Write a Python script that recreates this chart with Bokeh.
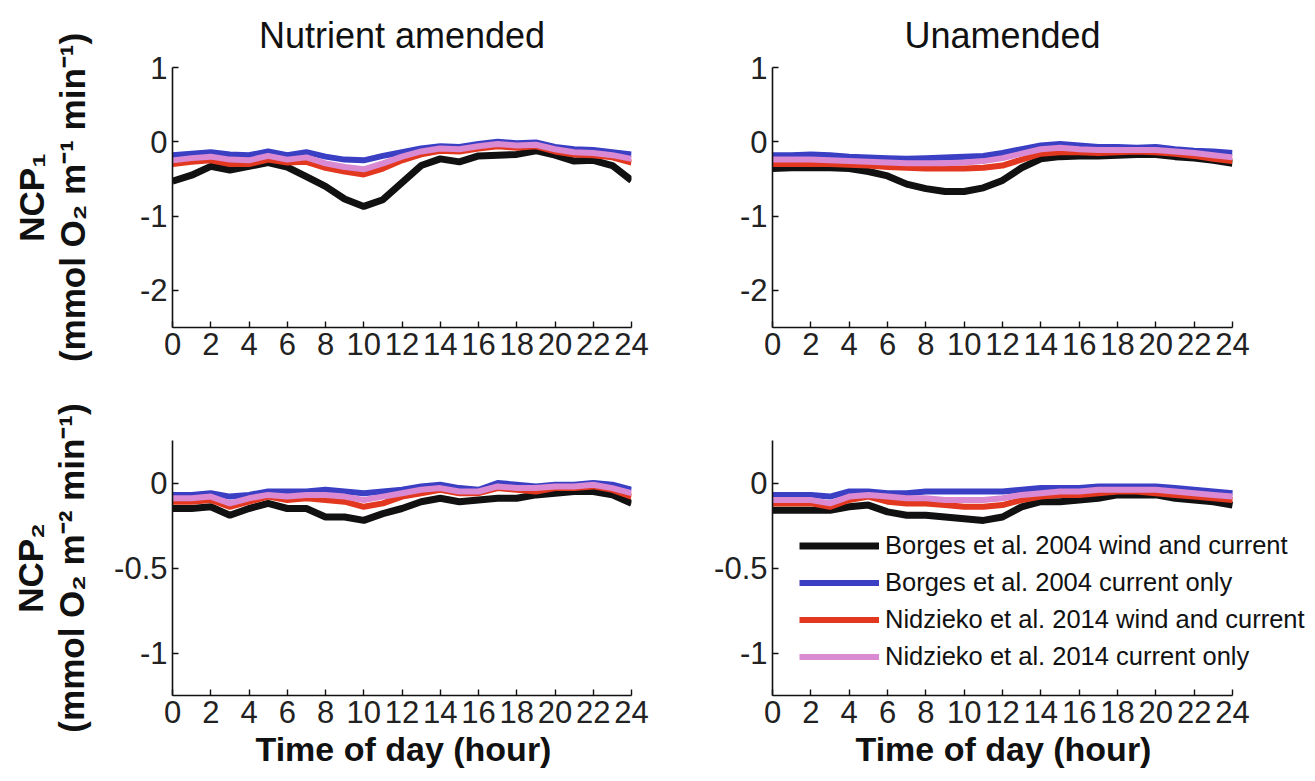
from bokeh.plotting import figure
from bokeh.layouts import column, row
from bokeh.models import FixedTicker, Legend, LegendItem, Range1d, Title
from bokeh.embed import file_html
from bokeh.resources import INLINE

FONT = "Liberation Sans"

hours = list(range(25))
x_ticks = list(range(0, 25, 2))

titles = ["Nutrient amended", "Unamended"]
series_names = ["Borges et al. 2004 wind and current",
                "Borges et al. 2004 current only",
                "Nidzieko et al. 2014 wind and current",
                "Nidzieko et al. 2014 current only"]
series_colors = ["#111111", "#3a3fc4", "#e2381f", "#d98ad2"]
series_widths = [7, 6, 6, 6]

top_yticks = [1, 0, -1, -2]
top_ylabels = ["1", "0", "-1", "-2"]
bot_yticks = [0, -0.5, -1]
bot_ylabels = ["0", "-0.5", "-1"]

ylabel_top = "NCP\u2081\n(mmol O\u2082 m\u207b\u00b9 min\u207b\u00b9)"
ylabel_bot = "NCP\u2082\n(mmol O\u2082 m\u207b\u00b2 min\u207b\u00b9)"
xlabel = "Time of day (hour)"

# Nutrient amended, NCP1
na1_black = [-0.53, -0.45, -0.33, -0.38, -0.33, -0.28, -0.34, -0.47, -0.60, -0.77, -0.87, -0.78, -0.55,
             -0.32, -0.23, -0.27, -0.19, -0.18, -0.17, -0.12, -0.18, -0.26, -0.25, -0.32, -0.52]
na1_blue = [-0.18, -0.16, -0.14, -0.17, -0.18, -0.13, -0.18, -0.14, -0.20, -0.24, -0.25, -0.19, -0.14,
            -0.09, -0.06, -0.07, -0.03, 0.00, -0.02, -0.01, -0.07, -0.10, -0.11, -0.14, -0.17]
na1_red = [-0.30, -0.27, -0.25, -0.30, -0.30, -0.24, -0.28, -0.27, -0.35, -0.40, -0.44, -0.36, -0.25,
           -0.17, -0.12, -0.13, -0.09, -0.06, -0.08, -0.06, -0.13, -0.17, -0.18, -0.21, -0.28]
na1_pink = [-0.25, -0.22, -0.20, -0.24, -0.25, -0.19, -0.24, -0.21, -0.29, -0.34, -0.37, -0.29, -0.20,
            -0.13, -0.09, -0.10, -0.06, -0.03, -0.05, -0.04, -0.10, -0.14, -0.15, -0.18, -0.23]

# Unamended, NCP1
un1_black = [-0.36, -0.35, -0.35, -0.35, -0.36, -0.40, -0.46, -0.57, -0.63, -0.67, -0.67, -0.62, -0.52,
             -0.35, -0.23, -0.20, -0.19, -0.19, -0.18, -0.17, -0.17, -0.20, -0.22, -0.25, -0.29]
un1_blue = [-0.18, -0.18, -0.17, -0.18, -0.20, -0.21, -0.22, -0.23, -0.22, -0.21, -0.20, -0.19, -0.15,
            -0.10, -0.05, -0.03, -0.05, -0.07, -0.07, -0.08, -0.07, -0.10, -0.12, -0.13, -0.15]
un1_red = [-0.30, -0.30, -0.30, -0.30, -0.31, -0.32, -0.34, -0.35, -0.36, -0.36, -0.36, -0.35, -0.32,
           -0.24, -0.16, -0.14, -0.14, -0.15, -0.14, -0.13, -0.14, -0.16, -0.19, -0.23, -0.26]
un1_pink = [-0.24, -0.24, -0.24, -0.25, -0.26, -0.27, -0.28, -0.29, -0.29, -0.29, -0.28, -0.26, -0.22,
            -0.16, -0.10, -0.08, -0.10, -0.11, -0.11, -0.11, -0.11, -0.13, -0.15, -0.18, -0.21]

# Nutrient amended, NCP2
na2_black = [-0.15, -0.15, -0.14, -0.19, -0.15, -0.12, -0.15, -0.15, -0.20, -0.20, -0.22, -0.18, -0.15,
             -0.11, -0.09, -0.11, -0.10, -0.09, -0.09, -0.07, -0.06, -0.05, -0.05, -0.07, -0.12]
na2_blue = [-0.07, -0.07, -0.06, -0.08, -0.07, -0.05, -0.05, -0.05, -0.04, -0.05, -0.06, -0.05, -0.04,
            -0.02, -0.01, -0.03, -0.04, 0.00, -0.01, -0.02, -0.01, -0.01, 0.00, -0.01, -0.04]
na2_red = [-0.11, -0.11, -0.10, -0.14, -0.11, -0.08, -0.10, -0.09, -0.10, -0.11, -0.14, -0.12, -0.08,
           -0.06, -0.04, -0.06, -0.06, -0.03, -0.04, -0.05, -0.03, -0.03, -0.02, -0.04, -0.08]
na2_pink = [-0.09, -0.09, -0.08, -0.12, -0.09, -0.07, -0.08, -0.07, -0.07, -0.08, -0.10, -0.08, -0.06,
            -0.04, -0.03, -0.05, -0.05, -0.02, -0.03, -0.03, -0.02, -0.02, -0.01, -0.03, -0.06]

# Unamended, NCP2
un2_black = [-0.16, -0.16, -0.16, -0.16, -0.14, -0.13, -0.17, -0.19, -0.19, -0.20, -0.21, -0.22, -0.20,
             -0.14, -0.11, -0.11, -0.10, -0.09, -0.07, -0.07, -0.07, -0.09, -0.10, -0.11, -0.13]
un2_blue = [-0.07, -0.07, -0.07, -0.08, -0.05, -0.05, -0.06, -0.06, -0.05, -0.05, -0.05, -0.05, -0.05,
            -0.04, -0.03, -0.03, -0.03, -0.02, -0.02, -0.02, -0.02, -0.03, -0.04, -0.05, -0.06]
un2_red = [-0.12, -0.12, -0.12, -0.14, -0.10, -0.08, -0.11, -0.12, -0.12, -0.13, -0.14, -0.14, -0.13,
           -0.10, -0.08, -0.07, -0.07, -0.06, -0.05, -0.05, -0.06, -0.07, -0.08, -0.09, -0.10]
un2_pink = [-0.10, -0.10, -0.10, -0.12, -0.08, -0.07, -0.08, -0.09, -0.09, -0.10, -0.10, -0.10, -0.09,
            -0.07, -0.06, -0.05, -0.05, -0.04, -0.04, -0.04, -0.04, -0.05, -0.06, -0.07, -0.08]


def make_panel(series, ylim, yticks, ylabels, title=None, ylabel=None, xlab=None,
               fw=459, fh=260, bl=172, br=69, bt=67, bb=53, ylabel_standoff=45,
               legend=False, extra_w=0):
    axis_w = fw
    x_end = 24 * (fw + extra_w) / axis_w
    p = figure(frame_width=fw + extra_w, frame_height=fh, x_range=Range1d(0, x_end),
               y_range=Range1d(*ylim),
               output_backend="svg", toolbar_location=None,
               min_border_left=bl, min_border_right=br, min_border_top=bt, min_border_bottom=bb)
    p.outline_line_color = None
    p.grid.visible = False
    if title:
        p.title.text = title
        p.title.align = "center"
        p.title.text_font = FONT
        p.title.text_font_size = "36px"
        p.title.text_font_style = "normal"
        p.title.text_color = "#111111"
        p.title.text_line_height = 1.0
        p.title.standoff = 24
    rends = []
    for vals, c, w in zip(series, series_colors, series_widths):
        rends.append(p.line(hours, vals, line_color=c, line_width=w))
    for ax in (p.xaxis[0], p.yaxis[0]):
        ax.axis_line_color = "#111111"
        ax.axis_line_width = 1.6
        ax.major_tick_line_color = "#111111"
        ax.major_tick_line_width = 1.4
        ax.major_tick_in = 6
        ax.major_tick_out = 0
        ax.minor_tick_line_color = None
        ax.major_label_text_font = FONT
        ax.major_label_text_font_size = "31px"
        ax.major_label_text_color = "#222222"
        ax.major_label_standoff = 5
    p.xaxis.ticker = FixedTicker(ticks=x_ticks)
    p.xaxis.bounds = (0, 24)
    p.yaxis.ticker = FixedTicker(ticks=yticks)
    p.yaxis.major_label_overrides = {t: lab for t, lab in zip(yticks, ylabels)}
    if ylabel:
        p.yaxis.axis_label = ylabel
        p.yaxis.axis_label_text_font = FONT
        p.yaxis.axis_label_text_font_size = "35px"
        p.yaxis.axis_label_text_font_style = "bold"
        p.yaxis.axis_label_text_color = "#111111"
        p.yaxis.axis_label_text_line_height = 1.05
        p.yaxis.axis_label_standoff = ylabel_standoff
    if xlab:
        # placed from the left so it stays centred under the 0-24 axis
        xt = Title(text=xlab, align="left", offset=83, text_font=FONT,
                   text_font_size="34px", text_font_style="bold", text_color="#111111",
                   text_line_height=1.0, standoff=4)
        p.add_layout(xt, "below")
    if legend:
        items = [LegendItem(label=n, renderers=[r]) for n, r in zip(series_names, rends)]
        lg = Legend(items=items, location=(27, 20), glyph_width=80, glyph_height=37,
                    label_height=37, spacing=0, padding=0, margin=0, label_standoff=6,
                    label_text_font=FONT, label_text_font_size="25.5px", label_text_color="#111111",
                    border_line_color=None, background_fill_alpha=0)
        p.add_layout(lg)
    return p


p1 = make_panel([na1_black, na1_blue, na1_red, na1_pink], (-2.5, 1), top_yticks, top_ylabels,
                title=titles[0], ylabel=ylabel_top)
p2 = make_panel([un1_black, un1_blue, un1_red, un1_pink], (-2.5, 1), top_yticks, top_ylabels,
                title=titles[1], fw=460, bl=72, br=83)
p3 = make_panel([na2_black, na2_blue, na2_red, na2_pink], (-1.25, 0.25), bot_yticks, bot_ylabels,
                ylabel=ylabel_bot, xlab=xlabel, fh=255, bt=60, bb=86, ylabel_standoff=20)
p4 = make_panel([un2_black, un2_blue, un2_red, un2_pink], (-1.25, 0.25), bot_yticks, bot_ylabels,
                xlab=xlabel, fw=460, bl=72, br=0, fh=255, bt=60, bb=86, legend=True, extra_w=83)

layout = column(row(p1, p2), row(p3, p4))
open("out.html", "w").write(file_html(layout, INLINE))
